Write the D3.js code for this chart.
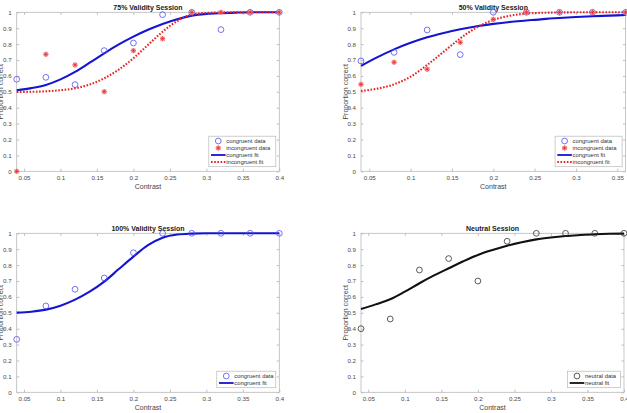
<!DOCTYPE html>
<html lang="en">
<head>
<meta charset="UTF-8">
<title>Validity sessions - psychometric fits</title>
<style>
    body { margin: 0; background: #fff; }
    svg { display: block; font-family: "Liberation Sans", Arial, Helvetica, sans-serif; }
    svg .box { fill: none; stroke: #b8b8b8; stroke-width: 0.8px; }
    svg .tick line { stroke: #b0b0b0; stroke-width: 0.8px; }
    svg .tick text { fill: #4a4a4a; font-size: 6.2px; }
    svg .title { font-size: 7px; font-weight: bold; fill: #1a1a1a; }
    svg .axis-label { font-size: 7px; fill: #444; }
    svg .legend-box { fill: #fff; stroke: #b8b8b8; stroke-width: 0.7px; }
    svg .legend-text { font-size: 5.9px; fill: #333; }
    svg .circle { fill: none; stroke: #4f4ff2; stroke-width: 0.8px; }
    svg .circle.neutral { stroke: #333; }
    svg .star line { stroke: #e82828; stroke-width: 0.7px; }
    svg .star circle { fill: #f6a4a4; opacity: 0.75; }
</style>
</head>
<body>
<div id="chart"></div>
<script src="https://cdnjs.cloudflare.com/ajax/libs/d3/7.8.5/d3.min.js"></script>
<script>
  // contrast levels
  var contrastAll = [0.04, 0.08, 0.12, 0.16, 0.20, 0.24, 0.28, 0.32, 0.36, 0.40];
  var contrast50 = [0.04, 0.08, 0.12, 0.16, 0.20, 0.24, 0.28, 0.32, 0.36];
  var fitXAll = [0.04, 0.06, 0.08, 0.10, 0.12, 0.14, 0.16, 0.18, 0.20, 0.22, 0.24, 0.26, 0.28, 0.30, 0.32, 0.34, 0.36, 0.38, 0.40];
  var fitX50 = [0.04, 0.06, 0.08, 0.10, 0.12, 0.14, 0.16, 0.18, 0.20, 0.22, 0.24, 0.26, 0.28, 0.30, 0.32, 0.34, 0.36];

  // 75% validity
  var cong75 = [0.579, 0.591, 0.545, 0.759, 0.807, 0.985, 1.0, 0.891, 1.0, 1.0];
  var incong75 = [0.0, 0.736, 0.669, 0.501, 0.759, 0.834, 1.0, 1.0, 1.0, 1.0];
  var congFit75 = [0.510, 0.523, 0.543, 0.578, 0.625, 0.683, 0.742, 0.798, 0.847, 0.890, 0.927, 0.957, 0.979, 0.990, 0.995, 0.998, 1.0, 1.0, 1.0];
  var incongFit75 = [0.499, 0.500, 0.503, 0.510, 0.522, 0.546, 0.585, 0.640, 0.711, 0.795, 0.878, 0.945, 0.985, 0.996, 0.999, 1.0, 1.0, 1.0, 1.0];

  // 50% validity
  var cong50 = [0.694, 0.748, 0.889, 0.734, 1.0, 1.0, 1.0, 1.0, 1.0];
  var incong50 = [0.547, 0.686, 0.642, 0.811, 0.956, 1.0, 1.0, 1.0, 1.0];
  var congFit50 = [0.663, 0.718, 0.767, 0.808, 0.843, 0.870, 0.893, 0.912, 0.927, 0.939, 0.948, 0.957, 0.964, 0.970, 0.975, 0.979, 0.983];
  var incongFit50 = [0.505, 0.520, 0.547, 0.595, 0.669, 0.752, 0.836, 0.905, 0.952, 0.978, 0.992, 0.997, 0.999, 1.0, 1.0, 1.0, 1.0];

  // 100% validity
  var cong100 = [0.333, 0.543, 0.648, 0.719, 0.878, 1.0, 1.0, 1.0, 1.0, 1.0];
  var congFit100 = [0.501, 0.507, 0.520, 0.545, 0.583, 0.633, 0.696, 0.775, 0.853, 0.925, 0.972, 0.992, 0.998, 1.0, 1.0, 1.0, 1.0, 1.0, 1.0];

  // neutral
  var neutral = [0.400, 0.461, 0.769, 0.841, 0.700, 0.950, 1.0, 1.0, 1.0, 1.0];
  var neutralFit = [0.524, 0.553, 0.585, 0.633, 0.686, 0.735, 0.780, 0.824, 0.864, 0.895, 0.922, 0.944, 0.962, 0.974, 0.983, 0.989, 0.994, 0.997, 0.998];

  var xTicksAll = [0.05, 0.1, 0.15, 0.2, 0.25, 0.3, 0.35, 0.4];
  var xTicks50 = [0.05, 0.1, 0.15, 0.2, 0.25, 0.3, 0.35];
  var yTicks = [0, 0.1, 0.2, 0.3, 0.4, 0.5, 0.6, 0.7, 0.8, 0.9, 1];

  var width = 627,
    height = 413;

  var panels = [
    {
      title: '75% Validity Session', box: [16.7, 279.3, 12.3, 171.3], domain: [0.04, 0.4], xTicks: xTicksAll,
      points: [
        {x: contrastAll, y: cong75, type: 'circle', label: 'congruent data'},
        {x: contrastAll, y: incong75, type: 'star', label: 'incongruent data'}
      ],
      fits: [
        {x: fitXAll, y: congFit75, color: '#1414d2', dash: null, label: 'congruent fit'},
        {x: fitXAll, y: incongFit75, color: '#ee2020', dash: '1.6,1.6', label: 'incongruent fit'}
      ],
      legendWidth: 67
    },
    {
      title: '50% Validity Session', box: [361, 625.6, 12.3, 171.3], domain: [0.04, 0.36], xTicks: xTicks50,
      points: [
        {x: contrast50, y: cong50, type: 'circle', label: 'congruent data'},
        {x: contrast50, y: incong50, type: 'star', label: 'incongruent data'}
      ],
      fits: [
        {x: fitX50, y: congFit50, color: '#1414d2', dash: null, label: 'congruent fit'},
        {x: fitX50, y: incongFit50, color: '#ee2020', dash: '1.6,1.6', label: 'incongruent fit'}
      ],
      legendWidth: 67
    },
    {
      title: '100% Validity Session', box: [16.7, 279.3, 233.3, 392.3], domain: [0.04, 0.4], xTicks: xTicksAll,
      points: [
        {x: contrastAll, y: cong100, type: 'circle', label: 'congruent data'}
      ],
      fits: [
        {x: fitXAll, y: congFit100, color: '#1414d2', dash: null, label: 'congruent fit'}
      ],
      legendWidth: 59
    },
    {
      title: 'Neutral Session', box: [361, 624, 233.3, 392.3], domain: [0.04, 0.4], xTicks: xTicksAll,
      points: [
        {x: contrastAll, y: neutral, type: 'circle neutral', label: 'neutral data'}
      ],
      fits: [
        {x: fitXAll, y: neutralFit, color: '#111', dash: null, label: 'neutral fit'}
      ],
      legendWidth: 53
    }
  ];

  var svg = d3.select('#chart').append('svg')
    .attr('width', width)
    .attr('height', height);

  var fmt = function(d) { return String(d); };

  var drawMarker = function(g, type) {
    if (type.indexOf('star') === 0) {
      var s = 2.6;
      g.attr('class', 'star');
      g.append('circle').attr('r', 2.6);
      g.append('line').attr('x1', -s).attr('x2', s).attr('y1', 0).attr('y2', 0);
      g.append('line').attr('x1', 0).attr('x2', 0).attr('y1', -s).attr('y2', s);
      g.append('line').attr('x1', -s * 0.7).attr('x2', s * 0.7).attr('y1', -s * 0.7).attr('y2', s * 0.7);
      g.append('line').attr('x1', -s * 0.7).attr('x2', s * 0.7).attr('y1', s * 0.7).attr('y2', -s * 0.7);
    } else {
      g.append('circle').attr('class', type).attr('r', 2.9);
    }
  };

  panels.forEach(function(p) {
    var left = p.box[0], right = p.box[1], top = p.box[2], bottom = p.box[3];

    var x = d3.scaleLinear().domain(p.domain).range([left, right]);
    var y = d3.scaleLinear().domain([0, 1]).range([bottom, top]);

    var g = svg.append('g');

    // axes (MATLAB-like: ticks inside, mirrored on all four sides)
    g.append('g')
      .attr('transform', 'translate(0,' + bottom + ')')
      .call(d3.axisBottom(x).tickValues(p.xTicks).tickFormat(fmt).tickSize(-2.6).tickPadding(4))
      .call(function(a) { a.select('.domain').remove(); });
    g.append('g')
      .attr('transform', 'translate(0,' + top + ')')
      .call(d3.axisTop(x).tickValues(p.xTicks).tickFormat('').tickSize(-2.6))
      .call(function(a) { a.select('.domain').remove(); });
    g.append('g')
      .attr('transform', 'translate(' + left + ',0)')
      .call(d3.axisLeft(y).tickValues(yTicks).tickFormat(fmt).tickSize(-2.6).tickPadding(5))
      .call(function(a) { a.select('.domain').remove(); });
    g.append('g')
      .attr('transform', 'translate(' + right + ',0)')
      .call(d3.axisRight(y).tickValues(yTicks).tickFormat('').tickSize(-2.6))
      .call(function(a) { a.select('.domain').remove(); });

    g.append('rect')
      .attr('class', 'box')
      .attr('x', left)
      .attr('y', top)
      .attr('width', right - left)
      .attr('height', bottom - top);

    g.append('text')
      .attr('class', 'title')
      .attr('x', (left + right) / 2)
      .attr('y', top - 2.5)
      .attr('text-anchor', 'middle')
      .text(p.title);

    g.append('text')
      .attr('class', 'axis-label')
      .attr('x', (left + right) / 2)
      .attr('y', bottom + 17.3)
      .attr('text-anchor', 'middle')
      .text('Contrast');

    g.append('text')
      .attr('class', 'axis-label')
      .attr('transform', 'translate(' + (left - 16) + ',' + ((top + bottom) / 2) + ') rotate(-90)')
      .attr('text-anchor', 'middle')
      .attr('dominant-baseline', 'central')
      .text('Proportion correct');

    // fits
    var line = d3.line()
      .x(function(d) { return x(d[0]); })
      .y(function(d) { return y(d[1]); })
      .curve(d3.curveMonotoneX);

    p.fits.forEach(function(f) {
      g.append('path')
        .datum(d3.zip(f.x, f.y))
        .attr('d', line)
        .attr('fill', 'none')
        .attr('stroke', f.color)
        .attr('stroke-width', 2.1)
        .attr('stroke-dasharray', f.dash);
    });

    // data points
    p.points.forEach(function(s) {
      g.selectAll(null)
        .data(d3.zip(s.x, s.y))
        .enter()
        .append('g')
        .attr('transform', function(d) { return 'translate(' + x(d[0]) + ',' + y(d[1]) + ')'; })
        .each(function() { drawMarker(d3.select(this), s.type); });
    });

    // legend
    var entries = p.points.map(function(s) { return {kind: 'marker', type: s.type, label: s.label}; })
      .concat(p.fits.map(function(f) { return {kind: 'line', color: f.color, dash: f.dash, label: f.label}; }));

    var lh = entries.length * 7 + 2.5,
      lw = p.legendWidth,
      lx = right - 3.5 - lw,
      ly = bottom - 4.6 - lh;

    var legend = g.append('g').attr('transform', 'translate(' + lx + ',' + ly + ')');
    legend.append('rect')
      .attr('class', 'legend-box')
      .attr('width', lw)
      .attr('height', lh);

    entries.forEach(function(e, i) {
      var ry = 4.8 + i * 7;
      if (e.kind === 'marker') {
        drawMarker(legend.append('g').attr('transform', 'translate(9.5,' + ry + ')'), e.type);
      } else {
        legend.append('line')
          .attr('x1', 2.2)
          .attr('x2', 16.8)
          .attr('y1', ry)
          .attr('y2', ry)
          .attr('stroke', e.color)
          .attr('stroke-width', 1.8)
          .attr('stroke-dasharray', e.dash);
      }
      legend.append('text')
        .attr('class', 'legend-text')
        .attr('x', 17.5)
        .attr('y', ry)
        .attr('dominant-baseline', 'central')
        .text(e.label);
    });
  });
</script>
</body>
</html>
